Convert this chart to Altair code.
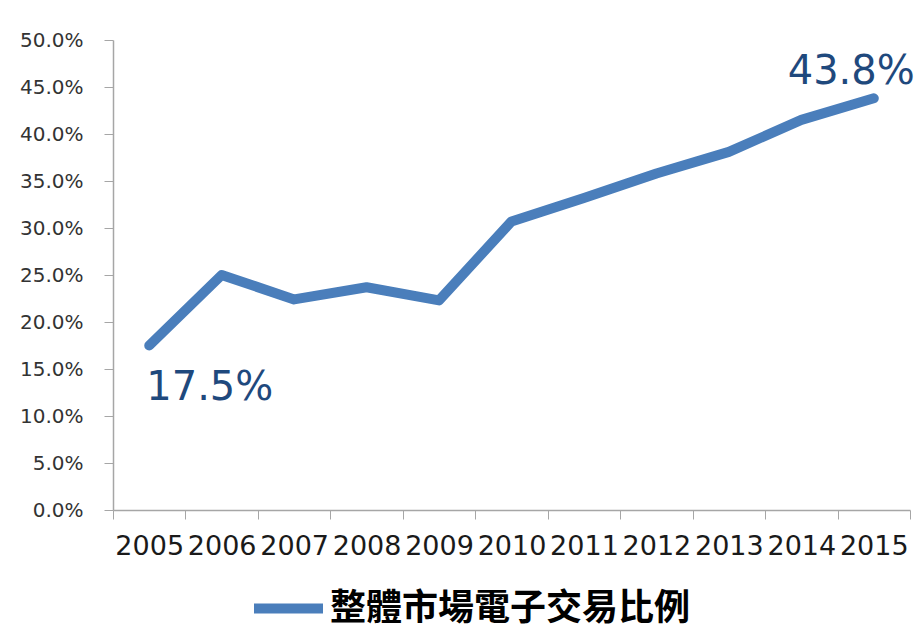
import altair as alt
import pandas as pd

years = [2005, 2006, 2007, 2008, 2009, 2010, 2011, 2012, 2013, 2014, 2015]
share = [17.5, 25.0, 22.4, 23.7, 22.3, 30.7, 33.2, 35.8, 38.1, 41.5, 43.8]
series_name = "整體市場電子交易比例"
y_tick_values = [0, 0.05, 0.10, 0.15, 0.20, 0.25, 0.30, 0.35, 0.40, 0.45, 0.50]
x_bounds = [2004.5 + i for i in range(12)]

df = pd.DataFrame({
    "year": years,
    "value": [v / 100 for v in share],
    "series": [series_name] * len(years),
})
df_first = df.iloc[[0]]
df_last = df.iloc[[-1]]

x_scale = alt.Scale(domain=[2004.5, 2015.5], nice=False, zero=False)
y_scale = alt.Scale(domain=[0, 0.5], nice=False, zero=True)

AXIS_GRAY = "#A6A6A6"

y_axis = alt.Axis(
    values=y_tick_values, format=".1%", title=None, grid=False,
    ticks=True, tickSize=9, tickColor=AXIS_GRAY, domainColor=AXIS_GRAY, domainWidth=1.5,
    labelFont="DejaVu Sans", labelFontSize=20, labelColor="#333333",
    labelPadding=21)

line = alt.Chart(df).mark_line(
    strokeWidth=10, strokeCap="round", strokeJoin="round"
).encode(
    x=alt.X("year:Q", scale=x_scale, axis=alt.Axis(
        values=years, format="d", orient="bottom", title=None, grid=False,
        ticks=False, tickSize=0, domain=True, domainColor=AXIS_GRAY, domainWidth=1.5,
        labelFont="DejaVu Sans", labelFontSize=27, labelColor="#1A1A1A",
        labelPadding=23, labelOverlap=False, labelFlush=False)),
    y=alt.Y("value:Q", scale=y_scale, axis=y_axis),
    color=alt.Color("series:N", scale=alt.Scale(range=["#4A7EBB"]), legend=alt.Legend(
        title=None, orient="none", legendX=136, legendY=529, direction="horizontal",
        symbolType="stroke", symbolStrokeWidth=10, symbolSize=4761,
        labelFont="Noto Sans CJK TC", labelFontSize=36, labelFontWeight="bold",
        labelColor="#000000", labelOffset=2, padding=0, labelLimit=600)),
)

text_style = dict(font="DejaVu Sans", fontSize=40, color="#1F497D")

first_label = alt.Chart(df_first).mark_text(
    align="left", baseline="alphabetic", dx=-3, dy=54, **text_style
).encode(
    x=alt.X("year:Q", scale=x_scale, axis=alt.Axis(
        values=x_bounds, orient="bottom", title=None, grid=False, labels=False,
        ticks=True, tickSize=9, tickColor=AXIS_GRAY, domain=False)),
    y=alt.Y("value:Q", scale=y_scale, axis=y_axis),
    text=alt.Text("value:Q", format=".1%"),
)

last_label = alt.Chart(df_last).mark_text(
    align="right", baseline="alphabetic", dx=41, dy=-14, **text_style
).encode(
    x=alt.X("year:Q", scale=x_scale, axis=None),
    y=alt.Y("value:Q", scale=y_scale, axis=y_axis),
    text=alt.Text("value:Q", format=".1%"),
)

chart = alt.layer(line, first_label, last_label).resolve_axis(
    x="independent"
).properties(
    width=797, height=470,
    padding={"left": 113, "top": 40, "right": 12, "bottom": 118},
    autosize=alt.AutoSizeParams(type="none"),
    background="white",
).configure_view(stroke=None)

chart.save("out.html", embed_options={"renderer": "svg", "actions": False})
